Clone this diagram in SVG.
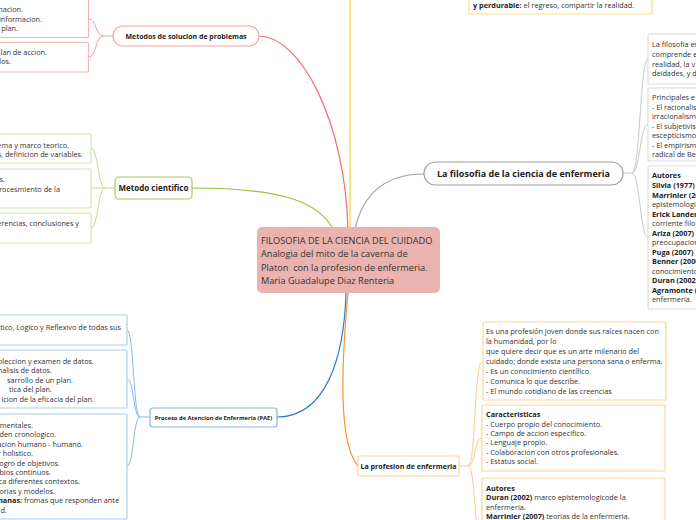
<svg xmlns="http://www.w3.org/2000/svg" width="696" height="520" viewBox="0 0 696 520">
<style>
text{font-family:"Open Sans","Noto Sans","Liberation Sans",sans-serif;fill:#333}
.t{font-size:7.3px}
.b{font-weight:bold;fill:#222}
.e{text-anchor:end}
.c{text-anchor:middle}
.box{fill:#fff;stroke-width:1.2}
.conn path{fill:none}
.red{stroke:#f4b4b4}.green{stroke:#d3e6b0}.blue{stroke:#a9cff5}.grey{stroke:#dcdcdc}.orange{stroke:#fcd79c}.yellow{stroke:#f6e47e}
</style>
<g id="connectors" class="conn">
<path d="M259,36 C300,36 345,120 348,229" stroke="#f46d6d" stroke-width="1.2"/>
<path d="M113,36 L103,36 C96,36 96,19 89,19 M103,36 C96,36 96,57 89,57" stroke="#f69a9a" stroke-width="1"/>
<path d="M192,188 C290,188 320,205 333,229" stroke="#9cc43e" stroke-width="1.2"/>
<path d="M115,188 L105,188 C98,188 98,148 91,148 M105,188 L91,188 M105,188 C98,188 98,228 91,228" stroke="#c2dc8c" stroke-width="1"/>
<path d="M277,417 C325,417 344,360 346,293" stroke="#2f7ad9" stroke-width="1.2"/>
<path d="M150,417 L140,417 C133,417 134,330 127,330 M140,417 C133,417 134,379 127,379 M140,417 C133,417 134,466 127,466" stroke="#86b6ee" stroke-width="1"/>
<path d="M355,229 C365,185 395,174 424,174" stroke="#a3a3a3" stroke-width="1.2"/>
<path d="M623,173 L632,173 C640,173 640,59 648,59 M632,173 C640,173 640,124 648,124 M632,173 C640,173 640,237 648,237" stroke="#c9c9c9" stroke-width="1"/>
<path d="M348,293 C340,380 340,445 358,466" stroke="#f5962e" stroke-width="1.2"/>
<path d="M459,466 L468,466 C476,466 474,362 482,362 M468,466 C476,466 474,438 482,438 M468,466 C476,466 474,545 482,545" stroke="#fbc98a" stroke-width="1"/>
<path d="M350,0 L350,229" stroke="#f5d23c" stroke-width="1.2"/>
</g>
<g id="center">
<rect x="257" y="227" width="183" height="66" rx="5" fill="#ebb3af"/>
<text x="261" y="244" style="font-size:9.2px" fill="#222">FILOSOFIA DE LA CIENCIA DEL CUIDADO</text>
<text x="261" y="257" style="font-size:9.2px">Analogia del mito de la caverna de</text>
<text x="261" y="270.5" style="font-size:9.2px" xml:space="preserve">Platon  con la profesion de enfermeria.</text>
<text x="261" y="284" style="font-size:9.2px">Maria Guadalupe Diaz Renteria</text>
</g>
<g id="yellow-box">
<rect class="box yellow" x="469" y="-10" width="183" height="24" rx="1"/>
<text class="t" x="473" y="8"><tspan class="b">y perdurable:</tspan> el regreso, compartir la realidad.</text>
</g>
<g id="metodos-solucion">
<rect x="113" y="26" width="146" height="20" rx="10" fill="#fff" stroke="#f5a3a3" stroke-width="1.2"/>
<text class="b c" x="186" y="38.5" style="font-size:7px">Metodos de solucion de problemas</text>
</g>
<g id="ms-box1">
<rect class="box red" x="-10" y="-10" width="98.5" height="47.5" rx="1"/>
<text class="t e" x="23" y="12">macion.</text>
<text class="t e" x="42" y="21.5">informacion.</text>
<text class="t e" x="18" y="31">plan.</text>
</g>
<g id="ms-box2">
<rect class="box red" x="-10" y="42.5" width="98.5" height="29.5" rx="1"/>
<text class="t e" x="47" y="54.5">lan de accion.</text>
<text class="t e" x="11" y="64">los.</text>
</g>
<g id="metodo-cientifico">
<rect x="115" y="177" width="77" height="22" rx="4" fill="#fff" stroke="#a5c965" stroke-width="1.2"/>
<text class="b c" x="153.5" y="191" style="font-size:8px">Metodo cientifico</text>
</g>
<g id="mc-box1">
<rect class="box green" x="-10" y="134" width="101" height="29" rx="1"/>
<text class="t e" x="69" y="147.5">ema y marco teorico.</text>
<text class="t e" x="83" y="156.5">s, definicion de variables.</text>
</g>
<g id="mc-box2">
<rect class="box green" x="-10" y="169" width="101" height="39" rx="1"/>
<text class="t e" x="5" y="182">s.</text>
<text class="t e" x="60" y="191.5">rocesmiento de la</text>
</g>
<g id="mc-box3">
<rect class="box green" x="-10" y="213" width="101" height="30" rx="1"/>
<text class="t e" x="79" y="226">erencias, conclusiones y</text>
</g>
<g id="pae">
<rect x="150" y="408" width="127" height="19" rx="3" fill="#fff" stroke="#84b5f0" stroke-width="1.2"/>
<text class="b c" x="213.5" y="419.5" style="font-size:5.8px">Proceso de Atencion de Enfermeria (PAE)</text>
</g>
<g id="pae-box1">
<rect class="box blue" x="-10" y="315" width="137" height="30" rx="1"/>
<text class="t e" x="121" y="329.5">itico, Logico y Reflexivo de todas sus</text>
</g>
<g id="pae-box2">
<rect class="box blue" x="-10" y="350" width="137" height="58" rx="1"/>
<text class="t e" x="94" y="363.5">oleccion y examen de datos.</text>
<text class="t e" x="52" y="373">nalisis de datos.</text>
<text class="t e" x="73" y="382.5">sarrollo de un plan.</text>
<text class="t e" x="52" y="392">tica del plan.</text>
<text class="t e" x="94" y="401.5">icion de la eficacia del plan.</text>
</g>
<g id="pae-box3">
<rect class="box blue" x="-10" y="414" width="137" height="105" rx="1"/>
<text class="t e" x="33" y="428">mentales.</text>
<text class="t e" x="56" y="437.4">den cronologico.</text>
<text class="t e" x="83" y="446.8">acion humano - humano.</text>
<text class="t e" x="33" y="456.2">r holistico.</text>
<text class="t e" x="60" y="465.6">ogro de objetivos.</text>
<text class="t e" x="51" y="475">bios continuos.</text>
<text class="t e" x="80" y="484.4">ica diferentes contextos.</text>
<text class="t e" x="55" y="493.8">orias y modelos.</text>
<text class="t e" x="119" y="503.2"><tspan class="b">manas:</tspan> fromas que responden ante</text>
<text class="t e" x="7" y="512.6">d.</text>
</g>
<g id="filosofia-enfermeria">
<rect x="424" y="162" width="199" height="23" rx="11.5" fill="#fff" stroke="#9d9d9d" stroke-width="1.2"/>
<text class="b c" x="523.5" y="176.8" style="font-size:9px">La filosofia de la ciencia de enfermeria</text>
</g>
<g id="fe-box1">
<rect class="box grey" x="648" y="34" width="60" height="50" rx="1"/>
<text class="t" x="652" y="47">La filosofia es</text>
<text class="t" x="652" y="57">comprende e</text>
<text class="t" x="652" y="66.5">realidad, la v</text>
<text class="t" x="652" y="76">deidades, y d</text>
</g>
<g id="fe-box2">
<rect class="box grey" x="648" y="88" width="60" height="73" rx="1"/>
<text class="t" x="652" y="100">Principales e</text>
<text class="t" x="652" y="109.5">- El racionalis</text>
<text class="t" x="652" y="119">irracionalism</text>
<text class="t" x="652" y="128.5">- El subjetivis</text>
<text class="t" x="652" y="138">escepticismo</text>
<text class="t" x="652" y="147.5">- El empirism</text>
<text class="t" x="652" y="157">radical de Be</text>
</g>
<g id="fe-box3">
<rect class="box grey" x="648" y="166" width="60" height="143" rx="1"/>
<text class="t b" x="652" y="178">Autores</text>
<text class="t b" x="652" y="188">Silvia (1977)</text>
<text class="t b" x="652" y="197.5">Marrinier (20</text>
<text class="t" x="652" y="207">epistemologi,</text>
<text class="t b" x="652" y="216.5">Erick Lander</text>
<text class="t" x="652" y="226">corriente filo</text>
<text class="t" x="652" y="235.5"><tspan class="b">Ariza (2007)</tspan> b</text>
<text class="t" x="652" y="245">preocupacion</text>
<text class="t b" x="652" y="254.5">Puga (2007)</text>
<text class="t b" x="652" y="264">Benner (2000</text>
<text class="t" x="652" y="273.5">conocimiento.</text>
<text class="t b" x="652" y="283">Duran (2002)</text>
<text class="t b" x="652" y="292.5">Agramonte (</text>
<text class="t" x="652" y="302">enfermeria.</text>
</g>
<g id="profesion-enfermeria">
<rect x="358" y="456" width="101" height="20" rx="1.5" fill="#fff" stroke="#fcd59c" stroke-width="1.2"/>
<text class="b c" x="408.5" y="468.5" style="font-size:7.1px">La profesion de enfermeria</text>
</g>
<g id="pe-box1">
<rect class="box orange" x="483" y="322" width="183" height="78" rx="1"/>
<text class="t" x="486" y="333.5">Es una profesión joven donde sus raíces nacen con</text>
<text class="t" x="486" y="343.5">la humanidad, por lo</text>
<text class="t" x="486" y="354">que quiere decir que es un arte milenario del</text>
<text class="t" x="486" y="364">cuidado; donde exista una persona sana o enferma.</text>
<text class="t" x="486" y="374">- Es un conocimiento científico.</text>
<text class="t" x="486" y="384">- Comunica lo que describe.</text>
<text class="t" x="486" y="394">- El mundo cotidiano de las creencias</text>
</g>
<g id="pe-box2">
<rect class="box orange" x="482" y="405" width="183" height="66" rx="1"/>
<text class="t b" x="486" y="417">Caracteristicas</text>
<text class="t" x="486" y="426.5">- Cuerpo propio del conocimiento.</text>
<text class="t" x="486" y="436">- Campo de accion especifico.</text>
<text class="t" x="486" y="445">- Lenguaje propio.</text>
<text class="t" x="486" y="454.5">- Colaboracion con otros profesionales.</text>
<text class="t" x="486" y="464">- Estatus social.</text>
</g>
<g id="pe-box3">
<rect class="box orange" x="482" y="478" width="183" height="60" rx="1"/>
<text class="t b" x="486" y="490.5">Autores</text>
<text class="t" x="486" y="500"><tspan class="b">Duran (2002)</tspan> marco epistemologicode la</text>
<text class="t" x="486" y="509.5">enfermeria.</text>
<text class="t" x="486" y="519"><tspan class="b">Marrinier (2007)</tspan> teorias de la enfermeria.</text>
</g>
</svg>
